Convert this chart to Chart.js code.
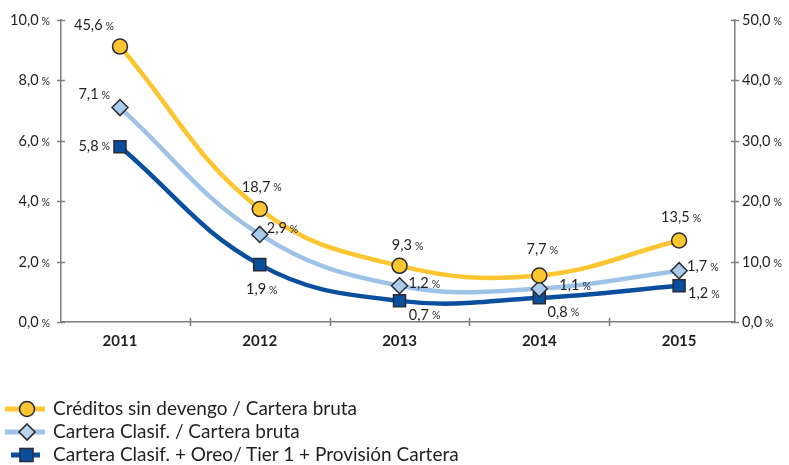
<!DOCTYPE html>
<html>
<head>
<meta charset="utf-8">
<script src="https://cdn.jsdelivr.net/npm/chart.js@4.4.1/dist/chart.umd.min.js"></script>
<style>
  html, body { margin: 0; padding: 0; background: #fff; }
  #wrap { position: relative; width: 789px; height: 465px; overflow: hidden; }
  #c { position: absolute; left: 0; top: 0; }
  .leg { position: absolute; left: 0; height: 22px; font-family: Lato, "Open Sans", sans-serif; font-size: 19px; color: #231f20; line-height: 22px; white-space: nowrap; }
  .leg svg { position: absolute; left: 0; top: 0; }
  .leg span { position: absolute; left: 53px; top: -1px; }
</style>
</head>
<body>
<div id="wrap">
  <canvas id="c" width="789" height="465"></canvas>
  <div class="leg" style="top:398px;width:789px;">
    <svg width="50" height="22"><line x1="5" y1="11" x2="45" y2="11" stroke="#FDC52F" stroke-width="5"/><circle cx="27" cy="11" r="7.5" fill="#FDC52F" stroke="#2b2b35" stroke-width="1.6"/></svg>
    <span>Créditos sin devengo / Cartera bruta</span>
  </div>
  <div class="leg" style="top:421px;width:789px;">
    <svg width="50" height="22"><line x1="5" y1="11" x2="45" y2="11" stroke="#9FC3E7" stroke-width="5"/><path d="M27 3 L35 11 L27 19 L19 11 Z" fill="#BBD5EF" stroke="#2b2b35" stroke-width="1.6"/></svg>
    <span>Cartera Clasif. / Cartera bruta</span>
  </div>
  <div class="leg" style="top:444px;width:789px;">
    <svg width="50" height="22"><line x1="11" y1="11" x2="40" y2="11" stroke="#0A4F9E" stroke-width="5"/><rect x="20" y="4.5" width="13" height="13" fill="#0A4F9E" stroke="#2b2b35" stroke-width="1.6"/></svg>
    <span>Cartera Clasif. + Oreo/ Tier 1 + Provisión Cartera</span>
  </div>
</div>
<script>
const years = ['2011', '2012', '2013', '2014', '2015'];
const creditosSinDevengo = [45.6, 18.7, 9.3, 7.7, 13.5];   // right axis
const carteraClasif = [7.1, 2.9, 1.2, 1.1, 1.7];            // left axis
const carteraClasifOreo = [5.8, 1.9, 0.7, 0.8, 1.2];        // left axis
const leftTicks = [0, 2, 4, 6, 8, 10];
const rightTicks = [0, 10, 20, 30, 40, 50];
const seriesNames = ['Créditos sin devengo / Cartera bruta', 'Cartera Clasif. / Cartera bruta', 'Cartera Clasif. + Oreo/ Tier 1 + Provisión Cartera'];

// label placement: [dx, dy, align]
const labelPlacement = [
  [[-26, -21, 'center'], [2, -22, 'center'], [8, -20, 'center'], [3, -26, 'center'], [2, -23, 'center']],
  [[-10, -13, 'right'], [7, -6, 'left'], [9, -2, 'left'], [20, -3, 'left'], [8, -4, 'left']],
  [[-10, -1, 'right'], [2, 25, 'center'], [25, 14, 'center'], [24, 14, 'center'], [9, 8, 'left']]
];

const FONT = 'Lato, "Open Sans", sans-serif';
const fmt = v => v.toFixed(1).replace('.', ',');

function drawPct(ctx, num, x, y, align, numSize, pctSize, color) {
  ctx.save();
  ctx.fillStyle = color;
  ctx.textBaseline = 'middle';
  ctx.font = numSize + 'px ' + FONT;
  const w1 = ctx.measureText(num).width;
  ctx.font = pctSize + 'px ' + FONT;
  const gap = 3;
  const w2 = ctx.measureText('%').width;
  const total = w1 + gap + w2;
  let x0 = x;
  if (align === 'center') x0 = x - total / 2;
  else if (align === 'right') x0 = x - total;
  ctx.textAlign = 'left';
  ctx.font = numSize + 'px ' + FONT;
  ctx.fillText(num, x0, y);
  ctx.font = pctSize + 'px ' + FONT;
  ctx.fillText('%', x0 + w1 + gap, y + 1);
  ctx.restore();
}

const customPlugin = {
  id: 'custom',
  afterDraw(chart) {
    const ctx = chart.ctx;
    const yL = chart.scales.y, yR = chart.scales.y1, x = chart.scales.x;
    const axisColor = '#7f7f7f';
    ctx.save();
    ctx.strokeStyle = axisColor;
    ctx.lineWidth = 1.5;
    leftTicks.forEach(v => {
      const py = Math.round(yL.getPixelForValue(v)) + 0.5;
      ctx.beginPath(); ctx.moveTo(yL.right - 4, py); ctx.lineTo(yL.right + 4, py); ctx.stroke();
      drawPct(ctx, fmt(v), yL.right - 11, py, 'right', 14.5, 10.5, '#231f20');
    });
    rightTicks.forEach(v => {
      const py = Math.round(yR.getPixelForValue(v)) + 0.5;
      ctx.beginPath(); ctx.moveTo(yR.left - 4, py); ctx.lineTo(yR.left + 4, py); ctx.stroke();
      drawPct(ctx, fmt(v), yR.left + 7, py, 'left', 14.5, 10.5, '#231f20');
    });
    for (let i = 0; i < years.length - 1; i++) {
      const px = Math.round(x.getPixelForValue(i + 0.5)) + 0.5;
      ctx.beginPath(); ctx.moveTo(px, x.top - 4); ctx.lineTo(px, x.top + 4); ctx.stroke();
    }
    ctx.restore();
    chart.data.datasets.forEach((ds, di) => {
      const meta = chart.getDatasetMeta(di);
      meta.data.forEach((pt, i) => {
        const [dx, dy, al] = labelPlacement[di][i];
        drawPct(ctx, fmt(ds.data[i].y), pt.x + dx, pt.y + dy, al, 14.5, 10.5, '#231f20');
      });
    });
  }
};

const toXY = arr => arr.map((v, i) => ({ x: i, y: v }));

new Chart(document.getElementById('c'), {
  type: 'line',
  data: {
    datasets: [
      {
        label: seriesNames[0], data: toXY(creditosSinDevengo), yAxisID: 'y1',
        borderColor: '#FDC52F', backgroundColor: '#FDC52F', borderWidth: 4.5,
        pointStyle: 'circle', pointRadius: 7.5, pointBorderColor: '#2b2b35', pointBorderWidth: 1.5,
        pointBackgroundColor: '#FDC52F', tension: 0.4
      },
      {
        label: seriesNames[1], data: toXY(carteraClasif), yAxisID: 'y',
        borderColor: '#9FC3E7', backgroundColor: '#9FC3E7', borderWidth: 4.5,
        pointStyle: 'rectRot', pointRadius: 8, pointBorderColor: '#2b2b35', pointBorderWidth: 1.5,
        pointBackgroundColor: '#A9CBEC', tension: 0.4
      },
      {
        label: seriesNames[2], data: toXY(carteraClasifOreo), yAxisID: 'y',
        borderColor: '#0A4F9E', backgroundColor: '#0A4F9E', borderWidth: 4.5,
        pointStyle: 'rect', pointRadius: 8.5, pointBorderColor: '#2b2b35', pointBorderWidth: 1.5,
        pointBackgroundColor: '#0A4F9E', tension: 0.4
      }
    ]
  },
  options: {
    responsive: false,
    animation: false,
    layout: { padding: { top: 20, left: 0, right: 0, bottom: 0 } },
    plugins: { legend: { display: false }, tooltip: { enabled: false } },
    scales: {
      x: {
        type: 'linear', min: -0.422, max: 4.4,
        afterBuildTicks: s => { s.ticks = years.map((_, i) => ({ value: i })); },
        afterFit: s => { s.height = 143; },
        grid: { display: false },
        border: { display: true, color: '#7f7f7f', width: 1.5 },
        ticks: {
          callback: v => years[Math.round(v)],
          color: '#231f20', font: { family: FONT, size: 15, weight: 'bold' }, padding: 2,
          maxRotation: 0, autoSkip: false
        }
      },
      y: {
        position: 'left', min: 0, max: 10,
        afterBuildTicks: s => { s.ticks = leftTicks.map(v => ({ value: v })); },
        afterFit: s => { s.width = 61; },
        grid: { display: false },
        border: { display: true, color: '#7f7f7f', width: 1.5 },
        ticks: { display: false }
      },
      y1: {
        position: 'right', min: 0, max: 50,
        afterBuildTicks: s => { s.ticks = rightTicks.map(v => ({ value: v })); },
        afterFit: s => { s.width = 54; },
        grid: { display: false },
        border: { display: true, color: '#7f7f7f', width: 1.5 },
        ticks: { display: false }
      }
    }
  },
  plugins: [customPlugin]
});
</script>
</body>
</html>
